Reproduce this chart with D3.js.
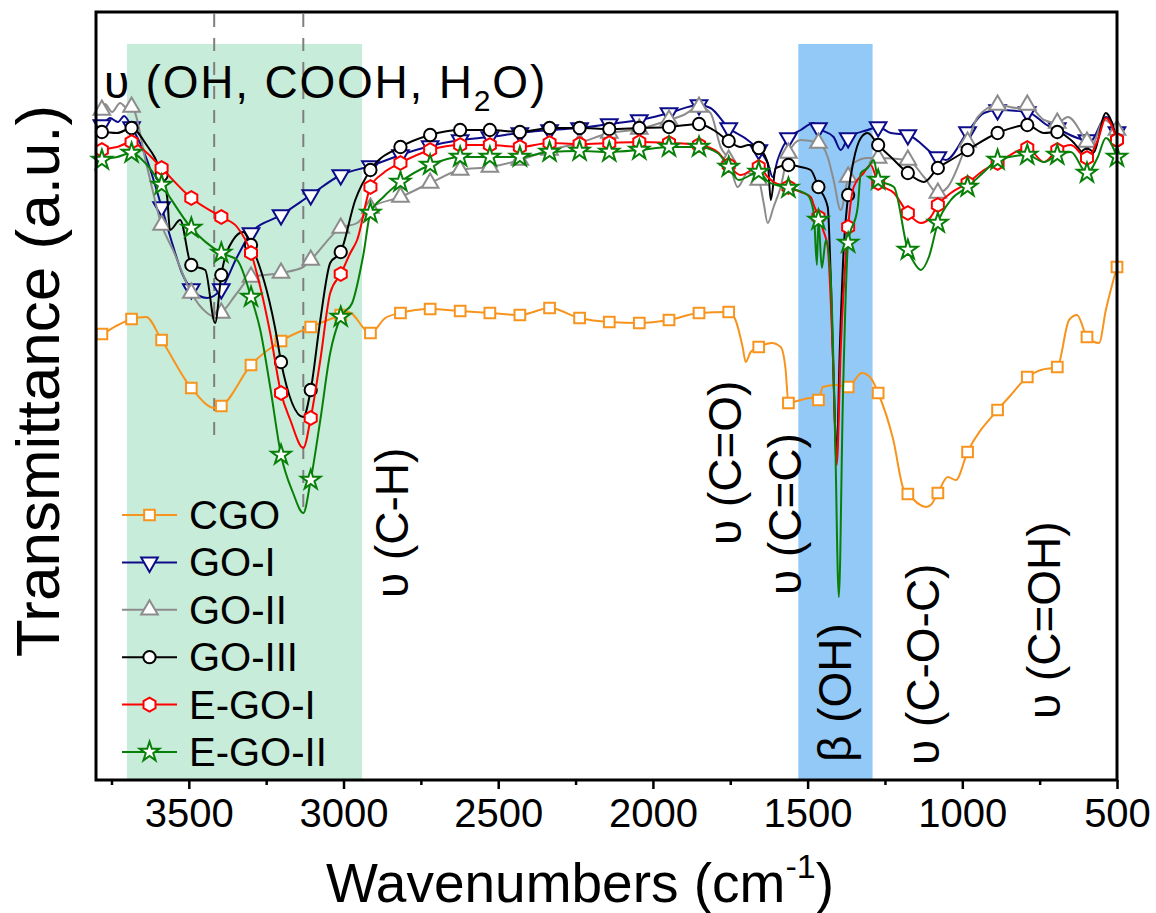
<!DOCTYPE html>
<html>
<head>
<meta charset="utf-8">
<script src="https://cdn.jsdelivr.net/npm/d3@7"></script>
<style>
  body { margin: 0; background: #fff; }
  svg { display: block; font-family: 'Liberation Sans', Arial, sans-serif; }
</style>
</head>
<body>
<div id="chart"></div>
<script>
/* global d3 */

// wavenumbers (cm-1) where each curve carries a symbol
const markerWn = [ 3781, 3685, 3588, 3492, 3395, 3299, 3202, 3106, 3009, 2913, 2816, 2720, 2623, 2527, 2430, 2334, 2237, 2141, 2044, 1948, 1851, 1755, 1658, 1562, 1465, 1369, 1272, 1176, 1079, 983, 886, 790, 693, 597, 500 ]

// transmittance (a.u.) at markerWn, plus extra points in between
const cgoMarks = [ 44.6, 46.1, 44.0, 39.2, 37.4, 41.5, 43.9, 45.3, 46.5, 44.7, 46.7, 47.1, 46.9, 46.7, 46.5, 47.2, 46.2, 45.8, 45.7, 46.0, 46.7, 46.8, 43.3, 37.7, 38.0, 39.3, 38.7, 28.6, 28.7, 32.8, 37.0, 40.3, 41.3, 44.3, 51.3 ]
const cgoDetail = [ [ 3797, 44.4 ], [ 3729, 45.5 ], [ 3638, 46.3 ], [ 3416, 37.2 ], [ 2985, 46.8 ], [ 2865, 46.2 ], [ 1733, 46.0 ], [ 1710, 43.3 ], [ 1700, 41.8 ], [ 1684, 42.8 ], [ 1616, 43.7 ], [ 1587, 43.3 ], [ 1571, 41.0 ], [ 1522, 38.0 ], [ 1490, 38.2 ], [ 1451, 39.3 ], [ 1409, 39.5 ], [ 1325, 40.7 ], [ 1296, 40.2 ], [ 1223, 34.0 ], [ 1189, 29.0 ], [ 1118, 27.3 ], [ 1102, 27.5 ], [ 1047, 30.3 ], [ 1021, 30.0 ], [ 843, 38.5 ], [ 746, 41.0 ], [ 655, 46.0 ], [ 629, 46.5 ], [ 558, 43.7 ], [ 536, 47.0 ] ]

const go1Marks = [ 65.5, 65.3, 57.3, 49.1, 49.1, 54.7, 56.5, 58.5, 60.5, 61.4, 62.5, 63.4, 64.0, 64.3, 64.7, 65.0, 65.2, 65.6, 66.0, 66.7, 67.5, 65.2, 63.0, 64.2, 65.2, 64.2, 65.3, 64.5, 62.3, 64.8, 67.0, 66.8, 65.2, 64.0, 64.8 ]
const go1Detail = [ [ 3797, 65.7 ], [ 3755, 66.2 ], [ 3729, 65.8 ], [ 3709, 66.4 ], [ 3635, 62.0 ], [ 3554, 53.7 ], [ 3522, 50.7 ], [ 3441, 48.2 ], [ 3344, 52.3 ], [ 1814, 67.2 ], [ 1694, 64.0 ], [ 1629, 61.7 ], [ 1613, 60.3 ], [ 1597, 62.0 ], [ 1522, 65.0 ], [ 1480, 65.7 ], [ 1416, 64.3 ], [ 1393, 63.0 ], [ 1306, 65.0 ], [ 1231, 64.7 ], [ 1053, 62.0 ], [ 930, 66.7 ], [ 714, 65.3 ], [ 671, 64.8 ], [ 584, 64.0 ], [ 536, 66.3 ] ]

const go2Marks = [ 67.0, 67.3, 55.5, 48.7, 46.7, 50.3, 50.7, 52.0, 55.2, 57.2, 58.3, 59.7, 61.0, 61.3, 62.0, 63.0, 63.7, 64.7, 65.1, 66.0, 67.3, 62.0, 60.0, 62.7, 63.7, 60.3, 62.2, 62.0, 58.7, 63.8, 67.5, 67.5, 65.7, 63.8, 65.0 ]
const go2Detail = [ [ 3797, 66.7 ], [ 3771, 67.6 ], [ 3748, 66.8 ], [ 3722, 67.7 ], [ 3700, 67.2 ], [ 3635, 61.3 ], [ 3551, 53.0 ], [ 3441, 46.7 ], [ 3415, 46.3 ], [ 3344, 48.7 ], [ 3130, 51.3 ], [ 2956, 55.7 ], [ 1901, 66.5 ], [ 1814, 66.7 ], [ 1781, 63.3 ], [ 1726, 59.3 ], [ 1694, 60.7 ], [ 1642, 57.7 ], [ 1629, 55.7 ], [ 1610, 57.3 ], [ 1587, 59.3 ], [ 1522, 64.0 ], [ 1435, 62.3 ], [ 1416, 60.0 ], [ 1393, 57.0 ], [ 1351, 61.7 ], [ 1306, 62.2 ], [ 1124, 60.3 ], [ 1047, 59.3 ], [ 950, 66.3 ], [ 820, 67.2 ], [ 736, 66.0 ], [ 659, 66.3 ], [ 584, 63.3 ], [ 542, 66.0 ] ]

const go3Marks = [ 64.8, 65.2, 60.5, 51.5, 50.5, 53.5, 41.8, 39.0, 52.8, 61.0, 63.3, 64.5, 65.0, 65.0, 64.8, 65.2, 65.2, 65.1, 65.2, 65.3, 65.6, 63.9, 63.2, 61.5, 59.3, 58.5, 63.5, 60.7, 61.2, 63.0, 64.7, 65.5, 64.8, 62.5, 64.0 ]
const go3Detail = [ [ 3797, 64.7 ], [ 3732, 64.7 ], [ 3641, 63.7 ], [ 3570, 58.3 ], [ 3561, 55.0 ], [ 3528, 56.0 ], [ 3447, 51.0 ], [ 3415, 45.7 ], [ 3357, 54.0 ], [ 3324, 54.8 ], [ 3214, 44.0 ], [ 3130, 36.3 ], [ 3075, 46.0 ], [ 3043, 51.7 ], [ 2962, 58.0 ], [ 1804, 65.0 ], [ 1717, 63.3 ], [ 1691, 63.5 ], [ 1629, 61.7 ], [ 1619, 58.0 ], [ 1603, 61.2 ], [ 1522, 61.3 ], [ 1490, 61.0 ], [ 1435, 57.3 ], [ 1425, 50.0 ], [ 1412, 36.0 ], [ 1406, 32.5 ], [ 1396, 43.0 ], [ 1383, 53.3 ], [ 1351, 62.0 ], [ 1328, 64.2 ], [ 1306, 64.7 ], [ 1231, 62.3 ], [ 1124, 59.8 ], [ 1037, 62.0 ], [ 736, 64.7 ], [ 649, 64.0 ], [ 574, 62.8 ], [ 536, 66.7 ] ]

const ego1Marks = [ 63.0, 63.8, 61.2, 58.2, 56.3, 52.7, 38.7, 36.2, 50.6, 59.3, 61.7, 63.0, 63.5, 63.5, 63.3, 63.7, 63.6, 63.7, 63.8, 63.7, 63.5, 61.5, 61.3, 59.3, 56.3, 55.3, 59.7, 56.7, 57.5, 59.7, 61.7, 63.2, 63.0, 62.2, 64.0 ]
const ego1Detail = [ [ 3797, 62.8 ], [ 3732, 63.3 ], [ 3635, 62.7 ], [ 3344, 55.3 ], [ 3269, 49.3 ], [ 3237, 44.7 ], [ 3172, 36.0 ], [ 3130, 33.2 ], [ 3075, 42.0 ], [ 3043, 48.7 ], [ 2978, 52.7 ], [ 2956, 54.0 ], [ 2871, 60.7 ], [ 1791, 62.8 ], [ 1717, 60.5 ], [ 1629, 60.3 ], [ 1610, 59.8 ], [ 1522, 58.8 ], [ 1490, 58.3 ], [ 1480, 57.5 ], [ 1450, 55.0 ], [ 1435, 53.3 ], [ 1419, 43.0 ], [ 1406, 31.5 ], [ 1393, 43.0 ], [ 1351, 59.3 ], [ 1319, 60.7 ], [ 1296, 61.5 ], [ 1221, 58.7 ], [ 1134, 55.7 ], [ 1102, 56.3 ], [ 1037, 58.7 ], [ 930, 61.0 ], [ 736, 61.8 ], [ 649, 63.5 ], [ 562, 64.0 ], [ 536, 66.2 ] ]

const ego2Marks = [ 62.0, 62.7, 59.5, 55.2, 52.7, 48.3, 32.5, 30.0, 46.3, 56.7, 59.8, 61.5, 62.3, 62.3, 62.3, 62.8, 62.9, 62.8, 63.0, 63.3, 63.3, 61.3, 60.8, 59.2, 56.0, 53.7, 60.0, 53.0, 55.7, 59.3, 62.0, 62.5, 62.5, 60.7, 62.3 ]
const ego2Detail = [ [ 3797, 61.8 ], [ 3732, 62.3 ], [ 3635, 61.5 ], [ 3344, 52.0 ], [ 3269, 45.0 ], [ 3237, 39.3 ], [ 3163, 28.7 ], [ 3130, 26.7 ], [ 3075, 36.0 ], [ 3043, 42.7 ], [ 2972, 47.7 ], [ 2936, 52.5 ], [ 2871, 58.3 ], [ 1791, 62.7 ], [ 1723, 60.0 ], [ 1626, 59.8 ], [ 1500, 58.5 ], [ 1480, 56.7 ], [ 1470, 51.5 ], [ 1454, 51.2 ], [ 1441, 54.0 ], [ 1425, 50.0 ], [ 1412, 36.0 ], [ 1399, 18.3 ], [ 1386, 38.0 ], [ 1338, 57.3 ], [ 1328, 60.7 ], [ 1306, 61.2 ], [ 1286, 62.0 ], [ 1221, 59.3 ], [ 1157, 51.8 ], [ 1134, 51.0 ], [ 1108, 52.3 ], [ 1037, 58.0 ], [ 930, 60.8 ], [ 736, 61.8 ], [ 649, 62.8 ], [ 562, 62.3 ], [ 536, 64.2 ] ]

const seriesNames = [ 'CGO', 'GO-I', 'GO-II', 'GO-III', 'E-GO-I', 'E-GO-II' ]

const majorTicks = [ 3500, 3000, 2500, 2000, 1500, 1000, 500 ]
const minorTicks = [ 3750, 3250, 2750, 2250, 1750, 1250, 750 ]

// shaded bands [from, to] in cm-1, dashed guide lines [wavenumber, lower end]
const greenBand = [ 3700, 2940 ]
const blueBand = [ 1530, 1290 ]
const bandTop = 73.6
const guideLines = [ [ 3418, 33.8 ], [ 3130, 26.7 ] ]

// vertical band labels: [text, wavenumber of baseline, lower end]
const peakLabels = [
  [ 'υ (C-H)', 2790, 18.2 ],
  [ 'υ (C=O)', 1715, 23.5 ],
  [ 'υ (C=C)', 1522, 18.5 ],
  [ 'β (OH)', 1360, 1.8 ],
  [ 'υ (C-O-C)', 1075, 1.5 ],
  [ 'υ (C=OH)', 685, 6.1 ]
]

const width = 1156
const height = 913
const plot = { left: 96, right: 1117, top: 12, bottom: 780 }

const svg = d3.select('#chart').append('svg').attr('width', width).attr('height', height)

const x = d3.scaleLinear().domain([ 3800, 500 ]).range([ plot.left, plot.right ])
const y = d3.scaleLinear().domain([ 0, 76.8 ]).range([ plot.bottom, plot.top ])

const hexagon = {
  draw (context, size) {
    const r = Math.sqrt(size / 2.598)
    for (let i = 0; i < 6; i++) {
      const a = Math.PI / 3 * i - Math.PI / 2
      if (i === 0) context.moveTo(r * Math.cos(a), r * Math.sin(a))
      else context.lineTo(r * Math.cos(a), r * Math.sin(a))
    }
    context.closePath()
  }
}

const styles = [
  { color: '#f7941d', symbol: d3.symbolSquare, size: 115, rotate: 0 },
  { color: '#0c0c8a', symbol: d3.symbolTriangle, size: 120, rotate: 180 },
  { color: '#8c8c8c', symbol: d3.symbolTriangle, size: 120, rotate: 0 },
  { color: '#000000', symbol: d3.symbolCircle, size: 118, rotate: 0 },
  { color: '#ff0000', symbol: hexagon, size: 125, rotate: 0 },
  { color: '#088008', symbol: d3.symbolStar, size: 120, rotate: 0 }
]

const marks = [ cgoMarks, go1Marks, go2Marks, go3Marks, ego1Marks, ego2Marks ]
const details = [ cgoDetail, go1Detail, go2Detail, go3Detail, ego1Detail, ego2Detail ]

const series = seriesNames.map((name, i) => {
  const symbolPts = markerWn.map((wn, k) => [ wn, marks[i][k] ])
  const line = symbolPts.concat(details[i]).sort((a, b) => b[0] - a[0])
  return { name, symbolPts, line, style: styles[i] }
})

// shaded bands
const bands = [ [ greenBand, '#c8ecda' ], [ blueBand, '#93c9f6' ] ]
svg.append('g')
  .selectAll('rect')
  .data(bands)
  .enter()
  .append('rect')
  .attr('x', (d) => x(d[0][0]))
  .attr('width', (d) => x(d[0][1]) - x(d[0][0]))
  .attr('y', y(bandTop))
  .attr('height', y(0) - y(bandTop))
  .attr('fill', (d) => d[1])

// dashed guides
svg.append('g')
  .selectAll('line')
  .data(guideLines)
  .enter()
  .append('line')
  .attr('x1', (d) => x(d[0]))
  .attr('x2', (d) => x(d[0]))
  .attr('y1', plot.top + 2)
  .attr('y2', (d) => y(d[1]))
  .attr('stroke', '#7f7f7f')
  .attr('stroke-width', 2)
  .attr('stroke-dasharray', '13,11')

const lineGen = d3.line()
  .x((d) => x(d[0]))
  .y((d) => y(d[1]))
  .curve(d3.curveMonotoneX)

function symbolPath (style) {
  return d3.symbol().type(style.symbol).size(style.size)()
}

function drawSymbol (sel, style, px, py) {
  sel.append('path')
    .attr('d', symbolPath(style))
    .attr('transform', `translate(${px},${py}) rotate(${style.rotate})`)
    .attr('fill', '#fff')
    .attr('stroke', style.color)
    .attr('stroke-width', 2)
}

const plotArea = svg.append('g')
series.forEach((s) => {
  const g = plotArea.append('g').attr('class', 'series')
  g.append('path')
    .datum(s.line)
    .attr('d', lineGen)
    .attr('fill', 'none')
    .attr('stroke', s.style.color)
    .attr('stroke-width', 2)
    .attr('stroke-linejoin', 'round')
  s.symbolPts.forEach((p) => drawSymbol(g, s.style, x(p[0]), y(p[1])))
})

// frame
svg.append('rect')
  .attr('x', plot.left)
  .attr('y', plot.top)
  .attr('width', plot.right - plot.left)
  .attr('height', plot.bottom - plot.top)
  .attr('fill', 'none')
  .attr('stroke', '#000')
  .attr('stroke-width', 3)

// bottom axis
const axis = svg.append('g').attr('transform', `translate(0,${plot.bottom})`)
axis.call(d3.axisBottom(x).tickValues(majorTicks).tickSize(9).tickSizeOuter(0).tickPadding(10).tickFormat(d3.format('d')))
axis.select('.domain').remove()
axis.selectAll('.tick line').attr('stroke-width', 2.5)
axis.selectAll('.tick text')
  .attr('font-size', 40)
  .attr('font-family', "'Liberation Sans', Arial, sans-serif")
  .attr('fill', '#000')

const minor = svg.append('g').attr('transform', `translate(0,${plot.bottom})`)
minor.call(d3.axisBottom(x).tickValues(minorTicks).tickSize(5).tickSizeOuter(0).tickFormat(''))
minor.select('.domain').remove()
minor.selectAll('.tick line').attr('stroke-width', 2.5)

// axis titles
const xTitle = svg.append('text')
  .attr('x', 580)
  .attr('y', 902)
  .attr('text-anchor', 'middle')
  .attr('font-size', 55)
xTitle.append('tspan').text('Wavenumbers (cm')
xTitle.append('tspan').attr('font-size', 34).attr('dy', -24).text('-1')
xTitle.append('tspan').attr('dy', 24).text(')')

svg.append('text')
  .attr('transform', 'translate(59,381) rotate(-90)')
  .attr('text-anchor', 'middle')
  .attr('font-size', 62)
  .text('Transmittance (a.u.)')

// top band label
const topLabel = svg.append('text')
  .attr('x', 104)
  .attr('y', 98)
  .attr('font-size', 46)
  .attr('letter-spacing', 1.8)
topLabel.append('tspan').text('υ (OH, COOH, H')
topLabel.append('tspan').attr('font-size', 30).attr('dy', 13).text('2')
topLabel.append('tspan').attr('dy', -13).text('O)')

// vertical peak labels
svg.append('g')
  .selectAll('text')
  .data(peakLabels)
  .enter()
  .append('text')
  .attr('transform', (d) => `translate(${x(d[1])},${y(d[2])}) rotate(-90)`)
  .attr('font-size', 46)
  .text((d) => d[0])

// legend
const legend = svg.append('g').attr('transform', 'translate(122,515)')
const rowH = 47.4
series.forEach((s, i) => {
  const row = legend.append('g').attr('transform', `translate(0,${i * rowH})`)
  row.append('line')
    .attr('x1', 0)
    .attr('x2', 55)
    .attr('stroke', s.style.color)
    .attr('stroke-width', 2)
  drawSymbol(row, s.style, 27.5, 0)
  row.append('text')
    .attr('x', 67)
    .attr('y', 14)
    .attr('font-size', 40)
    .text(s.name)
})
</script>
</body>
</html>
